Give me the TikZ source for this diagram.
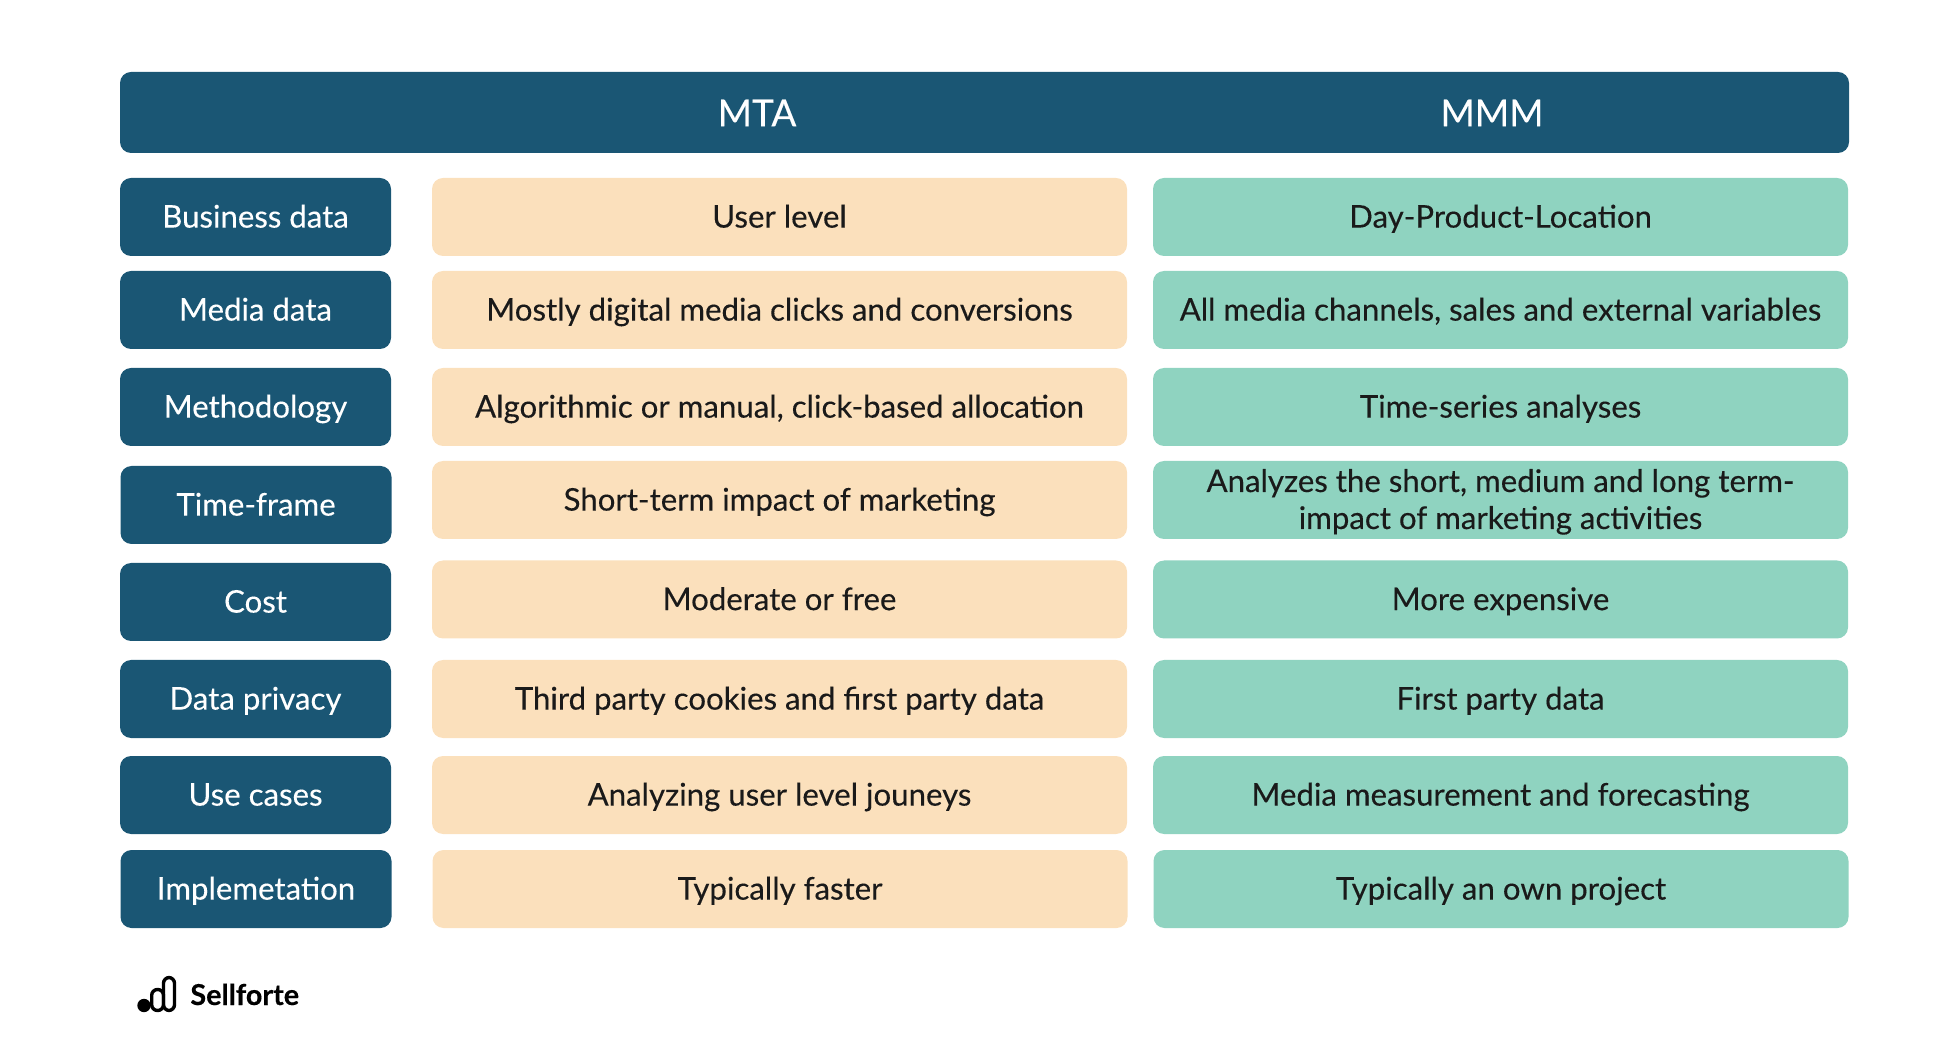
\documentclass[tikz,border=0pt]{standalone}
\usepackage{fontspec}
\setmainfont{Lato}[FakeBold=0.25]
\definecolor{deepblue}{HTML}{1A5674}
\definecolor{peach}{HTML}{FBE0BC}
\definecolor{mint}{HTML}{8FD3C0}
\definecolor{ink}{HTML}{1A1A1A}
\tikzset{
    cellbase/.style={rounded corners=5.5pt,inner sep=0,minimum height=39pt,text height=13.5pt,text depth=2.9pt,font=\fontsize{15.6}{18.5}\selectfont},
    rowhead/.style={cellbase,fill=deepblue,text=white,minimum width=135.5pt},
    mtacell/.style={cellbase,fill=peach,text=ink,minimum width=347.5pt},
    mmmcell/.style={cellbase,fill=mint,text=ink,minimum width=347.5pt},
    colhead/.style={inner sep=0,text=white,font=\fontsize{18.5}{22}\selectfont},
}
\begin{document}
\begin{tikzpicture}[x=0.5pt,y=-0.5pt]
    \useasboundingbox (0,0) rectangle (1960,1058);
    \node[fill=deepblue,rounded corners=5.5pt,inner sep=0,minimum width=864.5pt,minimum height=40.5pt] (head) at (984.5,112.5) {};
    \node[colhead] (mta) at (757,113) {MTA};
    \node[colhead] (mmm) at (1492,113) {MMM};

    \node[rowhead] (business) at (255.5,217) {Business data};
    \node[mtacell] (business-mta) at (779.5,217) {User level};
    \node[mmmcell] (business-mmm) at (1500.5,217) {Day-Product-Location};

    \node[rowhead] (media) at (255.5,310) {Media data};
    \node[mtacell] (media-mta) at (779.5,310) {Mostly digital media clicks and conversions};
    \node[mmmcell] (media-mmm) at (1500.5,310) {All media channels, sales and external variables};

    \node[rowhead] (method) at (255.5,407) {Methodology};
    \node[mtacell] (method-mta) at (779.5,407) {Algorithmic or manual, click-based allocation};
    \node[mmmcell] (method-mmm) at (1500.5,407) {Time-series analyses};

    \node[rowhead] (time) at (256,505) {Time-frame};
    \node[mtacell] (time-mta) at (779.5,500) {Short-term impact of marketing};
    \node[mmmcell,align=center,text height=32pt,text depth=3pt] (time-mmm) at (1500.5,500) {Analyzes the short, medium and long term-\\impact of marketing activities};

    \node[rowhead] (cost) at (255.5,602) {Cost};
    \node[mtacell] (cost-mta) at (779.5,599.5) {Moderate or free};
    \node[mmmcell] (cost-mmm) at (1500.5,599.5) {More expensive};

    \node[rowhead] (privacy) at (255.5,699) {Data privacy};
    \node[mtacell] (privacy-mta) at (779.5,699) {Third party cookies and first party data};
    \node[mmmcell] (privacy-mmm) at (1500.5,699) {First party data};

    \node[rowhead] (cases) at (255.5,795) {Use cases};
    \node[mtacell] (cases-mta) at (779.5,795) {Analyzing user level jouneys};
    \node[mmmcell] (cases-mmm) at (1500.5,795) {Media measurement and forecasting};

    \node[rowhead] (impl) at (256,889) {Implemetation};
    \node[mtacell] (impl-mta) at (780,889) {Typically faster};
    \node[mmmcell] (impl-mmm) at (1501,889) {Typically an own project};

    % logo
    \fill[black] (144,1005.5) circle (6.7);
    \draw[black,line width=1.7pt,rounded corners=2.9pt] (151.7,989.5) rectangle (163.5,1010.5);
    \draw[black,line width=1.7pt,rounded corners=2.9pt] (163.5,977.5) rectangle (174.5,1010.5);
    \node[inner sep=0,anchor=base west,font=\bfseries\fontsize{14.4}{18}\selectfont] (brand) at (190,1005) {Sellforte};
\end{tikzpicture}
\end{document}
